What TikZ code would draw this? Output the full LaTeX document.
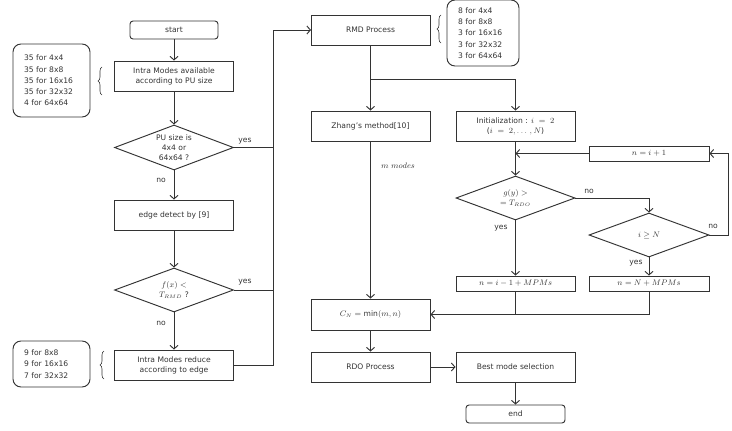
\documentclass[tikz,border=0pt]{standalone}
\usepackage{fontspec}
\setmainfont{DejaVu Sans}
\usetikzlibrary{shapes.geometric,decorations.pathreplacing,arrows.meta}

\begin{document}
\begin{tikzpicture}[x=1pt,y=-1pt,font=\fontsize{7.6}{10}\selectfont,color=black!80,line width=0.95pt,
  proc/.style={shape=rectangle,draw,minimum width=119,minimum height=30,inner sep=1pt,align=center},
  procS/.style={proc,minimum width=120,minimum height=15},
  term/.style={proc,rounded corners=3pt,minimum height=18},
  cond/.style={shape=diamond,draw,minimum width=119,minimum height=45,inner sep=0pt,shape aspect=2.6,align=center},
  memo/.style={shape=rectangle,draw,rounded corners=8pt,align=left,text width=55,inner xsep=11pt,font=\fontsize{7.6}{11.3}\selectfont},
  lbl/.style={inner sep=1pt},
  arr/.style={-{Straight Barb[length=3.5pt,width=8pt]}},
  brc/.style={decorate,decoration={brace,amplitude=4pt}}]
\useasboundingbox (0,0) rectangle (732,431);

% left column
\node[term,minimum width=88] (start) at (174,30) {start};
\node[proc] (avail) at (174,76) {Intra Modes available\\according to PU size};
\node[cond] (pu) at (174,147.5) {PU size is\\4x4 or\\64x64 ?};
\node[proc] (edge) at (174,215) {edge detect by [9]};
\node[cond,minimum height=44] (fx) at (174,290) {$f(x) <$\\$T_{RMD}$ ?};
\node[proc] (reduce) at (174,365) {Intra Modes reduce\\according to edge};

\node[memo,minimum height=73] (memoA) at (51.5,80.5) {35 for 4x4\\35 for 8x8\\35 for 16x16\\35 for 32x32\\4 for 64x64};
\node[memo,minimum height=46] (memoB) at (51.5,364) {9 for 8x8\\9 for 16x16\\7 for 32x32};
\draw[brc,line width=0.6pt] (102,95) -- (102,67);
\draw[brc,line width=0.6pt] (104,379) -- (104,351);

\node[lbl] (yesA) at (245,141) {yes};
\node[lbl] (noA) at (161,180) {no};
\node[lbl] (yesB) at (245,282) {yes};
\node[lbl] (noB) at (161,323) {no};

\coordinate (bus) at (273,30);
\draw[arr] (start) -- (avail);
\draw[arr] (avail) -- (pu);
\draw[arr] (pu) -- (edge);
\draw[arr] (edge) -- (fx);
\draw[arr] (fx) -- (reduce);
\draw (pu.east) -- (pu.east -| bus);
\draw (fx.east) -- (fx.east -| bus);
\draw[arr] (reduce.east) -- (reduce.east -| bus) -- (bus) -- (bus -| 311,0);

% right part
\node[proc] (rmd) at (370.5,30) {RMD Process};
\node[memo,text width=50,minimum height=66] (memoC) at (483,33) {8 for 4x4\\8 for 8x8\\3 for 16x16\\3 for 32x32\\3 for 64x64};
\draw[brc,line width=0.6pt] (441,43) -- (441,15);

\node[proc] (zhang) at (370.5,126) {Zhang's method[10]};
\node[proc] (init) at (515.5,126) {Initialization : $i\ =\ 2$\\($i\ =\ 2, \ldots\,, N$)};
\node[procS] (inc) at (649,153.5) {$n = i + 1$};
\node[cond,minimum height=44] (gy) at (515.5,198) {$g(y) >$\\$= T_{RDO}$};
\node[cond,minimum width=120,minimum height=44] (iN) at (649,235) {$i \geq N$};
\node[procS,minimum width=119] (lowA) at (515.5,283.5) {$n = i - 1 + MPMs$};
\node[procS] (lowB) at (649,283.5) {$n = N + MPMs$};
\node[proc,minimum height=31] (cn) at (370.5,314.5) {$C_N = \min(m,n)$};
\node[proc] (rdo) at (370.5,367) {RDO Process};
\node[proc] (best) at (515.5,367) {Best mode selection};
\node[term,minimum width=99] (end) at (515.5,414) {end};

\node[lbl] (mm) at (398,166) {$m\ modes$};
\node[lbl] (noC) at (589,191) {no};
\node[lbl] (noD) at (713,226) {no};
\node[lbl] (yesC) at (501,228) {yes};
\node[lbl] (yesD) at (636,263) {yes};

\coordinate (split) at (370.5,79);
\coordinate (loop) at (728,0);
\coordinate (join) at (0,314.5);
\draw (rmd) -- (split);
\draw[arr] (split) -- (zhang);
\draw[arr] (split) -| (init);
\draw[arr] (init) -- (gy);
\draw[arr] (inc.west) -- (inc.west -| init);
\draw[arr] (gy.east) -| (iN.north);
\draw[arr] (iN.east) -- (iN.east -| loop) |- (inc.east);
\draw[arr] (gy) -- (lowA);
\draw[arr] (iN) -- (lowB);
\draw (lowA.south) -- (lowA.south |- join);
\draw[arr] (lowB.south) |- (cn.east);
\draw[arr] (zhang) -- (cn);
\draw[arr] (cn) -- (rdo);
\draw[arr] (rdo) -- (best);
\draw[arr] (best) -- (end);
\end{tikzpicture}
\end{document}
